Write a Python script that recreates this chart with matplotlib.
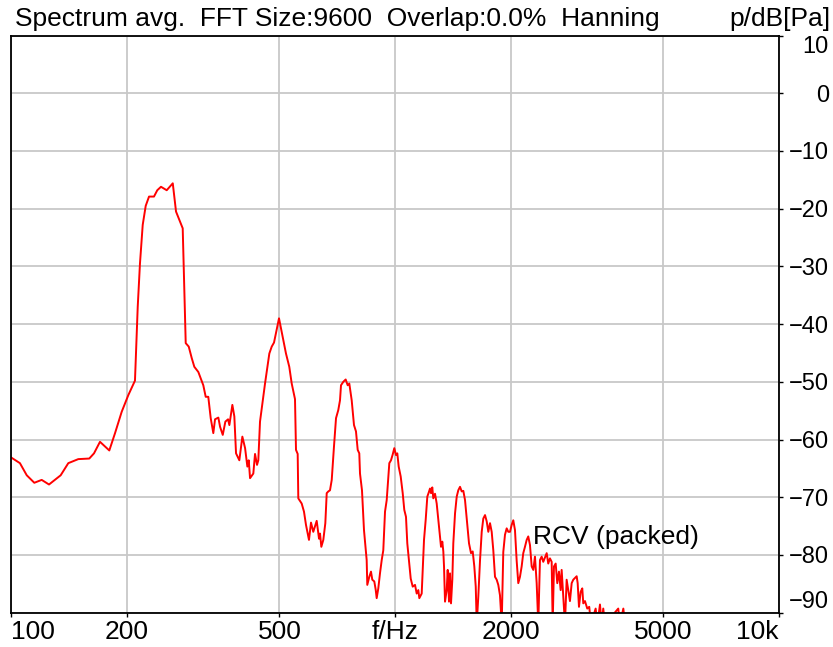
import matplotlib
matplotlib.use('Agg')
import matplotlib.pyplot as plt
import numpy as np
from matplotlib.ticker import NullLocator

# spectrum, split by lobe (Hz / dB)
f_low = [100, 105.5, 109.9, 115.0, 120.2, 125.6, 134.7, 141.0, 149.7, 159.9,
         164.5, 170.5, 180.3, 186.6, 194.2, 202.1, 210.3, 213.8, 216.7, 220.3,
         224.3, 228.8, 235.7, 240.4, 245.8, 254.4, 263.8, 269.0, 280.0, 285.1,
         290.3, 295.6, 300.2]
l_low = [-63.1, -64.1, -66.2, -67.5, -67.0, -67.8, -66.2, -64.1, -63.4, -63.3,
         -62.4, -60.4, -61.9, -58.9, -55.2, -52.3, -49.8, -37.0, -29.5, -22.8,
         -19.5, -17.9, -17.9, -16.8, -16.2, -16.8, -15.6, -20.5, -23.4, -43.3,
         -43.9, -45.9, -47.4]

f_2nd = [307.5, 316.8, 321.4, 326.4, 331.2, 336.4, 339.9, 346.7, 350.3, 356.0,
         361.6, 367.5, 370.4, 377.1, 381.6, 385.5, 393.2, 400.4, 407.0, 412.6,
         416.0, 419.3, 427.6, 432.0, 437.2, 440.6, 445.1, 458.7, 470.7, 477.5,
         484.1, 498.8, 510.0, 520.1, 530.5, 538.3, 549.0, 552.3, 557.9]
l_2nd = [-48.3, -50.6, -52.6, -52.6, -56.3, -58.9, -56.5, -56.2, -57.8, -59.2,
         -56.9, -56.5, -57.5, -54.0, -56.0, -62.4, -63.6, -59.5, -61.5, -64.7,
         -63.6, -66.7, -65.9, -62.5, -64.4, -63.6, -56.9, -50.3, -45.1, -43.9,
         -43.2, -39.0, -42.2, -45.1, -47.4, -50.3, -53.0, -61.8, -62.5]

f_3rd = [560.0, 571.5, 579.4, 586.4, 597.0, 604.3, 612.6, 625.3, 634.1, 637.9,
         642.9, 650.6, 658.5, 664.0, 670.4, 677.2, 684.3, 693.6, 702.1, 711.7,
         719.1, 723.4, 733.5, 744.0, 753.0, 760.3, 771.3, 782.0, 791.4, 799.6,
         807.2, 810.7, 820.4, 830.3, 843.8, 846.9, 857.1, 865.9, 872.7, 883.2,
         890.6, 896.0, 904.7, 913.9, 923.4, 932.2, 941.9, 951.5, 960.7, 966.5,
         976.3, 986.3, 995.8, 1006.0, 1013.9, 1022.4, 1034.7, 1047.3, 1057.3, 1068.1,
         1076.5, 1089.4, 1098.8]
l_3rd = [-70.2, -71.1, -72.5, -74.8, -77.4, -74.4, -76.0, -74.1, -77.2, -76.3,
         -78.6, -77.4, -74.5, -69.3, -69.0, -68.8, -67.0, -61.2, -56.3, -54.9,
         -53.2, -50.6, -50.0, -49.6, -50.6, -50.3, -53.2, -57.5, -58.6, -61.8,
         -62.4, -65.9, -68.8, -75.7, -80.9, -85.2, -83.8, -82.9, -84.3, -84.6,
         -86.0, -87.5, -85.8, -83.2, -80.9, -79.2, -72.5, -70.5, -66.4, -64.1,
         -63.6, -62.6, -61.5, -62.7, -62.4, -64.7, -66.4, -69.3, -72.2, -73.4,
         -78.0, -81.5, -84.1]

f_4th = [1112.0, 1127.5, 1139.0, 1150.0, 1157.0, 1173.6, 1180.7, 1190.0, 1202.1, 1213.8,
         1224.1, 1233.5, 1241.1, 1250.6, 1258.1, 1271.2, 1284.1, 1302.0, 1317.7, 1328.1,
         1336.1, 1341.7, 1349.7, 1363.4, 1371.6, 1382.4, 1390.7, 1399.1, 1410.1, 1418.5,
         1433.3, 1447.8, 1461.6, 1476.8, 1491.9, 1506.4, 1521.7, 1543.0, 1558.6, 1577.4,
         1593.5, 1609.0, 1622.8, 1632.5, 1648.0, 1665.1, 1682.0, 1698.0, 1715.7, 1733.2,
         1749.9, 1767.7, 1785.7, 1803.0, 1821.4, 1839.9, 1857.8, 1876.7, 1896.2]
l_4th = [-85.5, -85.2, -86.7, -86.1, -87.5, -86.7, -82.6, -77.4, -73.9, -69.9,
         -69.2, -68.5, -69.3, -68.3, -70.2, -69.4, -71.1, -75.1, -78.6, -77.7,
         -79.4, -82.0, -88.1, -86.1, -82.6, -88.1, -83.2, -88.4, -84.3, -78.0,
         -72.8, -69.9, -68.8, -68.2, -69.0, -68.9, -70.5, -74.8, -78.0, -79.7,
         -79.4, -82.0, -85.5, -92.0, -87.2, -80.9, -76.0, -73.7, -73.1, -74.2,
         -76.0, -74.5, -76.0, -79.2, -83.8, -84.3, -85.2, -87.0, -92.0]

f_high = [1914.2, 1933.9, 1953.6, 1972.6, 1992.7, 2013.0, 2032.5, 2053.2, 2074.1, 2094.3,
          2115.6, 2137.2, 2157.9, 2179.9, 2202.6, 2223.5, 2246.6, 2269.5, 2291.5, 2314.8,
          2338.4, 2361.1, 2385.1, 2409.4, 2432.8, 2483.2, 2506.7, 2532.2, 2558.6, 2574.0,
          2594.2, 2620.6, 2646.1, 2673.0, 2700.2, 2716.4, 2742.8, 2770.7, 2799.0, 2826.2,
          2855.0, 2884.6, 2912.3, 2942.3, 2972.3, 2990.2, 3013.7, 3044.4, 3074.0, 3092.4,
          3124.0, 3167.0, 3205.1, 3237.7, 3330.6, 3366.0, 3418.0, 3453.0, 3486.0, 3523.0,
          3814.0, 3854.0, 3932.0, 3972.0]
l_high = [-79.5, -76.5, -75.4, -76.0, -76.0, -74.8, -74.0, -75.7, -81.0, -84.9,
          -83.8, -82.0, -79.7, -78.6, -77.4, -76.8, -78.3, -82.0, -82.6, -80.3,
          -84.9, -92.0, -80.9, -80.3, -81.2, -79.7, -81.5, -80.6, -81.2, -92.0,
          -82.0, -81.5, -84.9, -82.9, -86.1, -82.6, -87.2, -92.0, -84.3, -86.1,
          -88.0, -84.9, -84.3, -84.0, -83.7, -84.9, -89.0, -86.4, -85.8, -88.4,
          -88.0, -89.3, -89.0, -92.0, -89.3, -92.0, -88.6, -92.0, -89.3, -92.0,
          -89.3, -92.0, -89.3, -92.0]

x_ticks = [100, 200, 500, 1000, 2000, 5000, 10000]
x_labels = ['100', '200', '500', 'f/Hz', '2000', '5000', '10k']
y_ticks = [-90, -80, -70, -60, -50, -40, -30, -20, -10, 0, 10]

title_left = 'Spectrum avg.  FFT Size:9600  Overlap:0.0%  Hanning'
title_right = 'p/dB[Pa]'
trace_name = 'RCV (packed)'

plt.rcParams['font.family'] = ['Liberation Sans', 'DejaVu Sans']

freq = np.concatenate([f_low, f_2nd, f_3rd, f_4th, f_high])
level = np.concatenate([l_low, l_2nd, l_3rd, l_4th, l_high])

fig = plt.figure(figsize=(8.33, 6.47), dpi=100)
ax = fig.add_axes([11/833, 1 - 612.6/647, 768/833, 577/647])

ax.plot(freq, level, color='#ff0000', lw=1.4)
ax.set_xscale('log')
ax.set_xlim(100, 10000)
ax.set_ylim(-90, 10)

ax.set_xticks(x_ticks)
ax.set_xticklabels(x_labels)
ax.xaxis.set_minor_locator(NullLocator())
ax.set_yticks(y_ticks)
ax.yaxis.tick_right()

ax.grid(True, color='#c8c8c8', lw=1.3)
ax.set_axisbelow(True)
for s in ax.spines.values():
    s.set_linewidth(1.3)

ax.tick_params(axis='x', length=3, width=1, labelsize=19, pad=2)
ax.tick_params(axis='y', length=3, width=1, labelsize=17, pad=33)

xt = ax.xaxis.get_major_ticks()
xt[0].label1.set_ha('left')
xt[-1].label1.set_ha('right')
yt = ax.yaxis.get_major_ticks()
for t in yt:
    t.label2.set_ha('right')
yt[0].label2.set_va('bottom')
yt[-1].label2.set_va('top')

fig.text(15/833, 1 - 19/647, title_left, fontsize=19, va='center')
fig.text(830/833, 1 - 19/647, title_right, fontsize=19, va='center', ha='right')
ax.text(2290, -76.9, trace_name, fontsize=19, va='center')

fig.savefig('out.png', dpi=100)
